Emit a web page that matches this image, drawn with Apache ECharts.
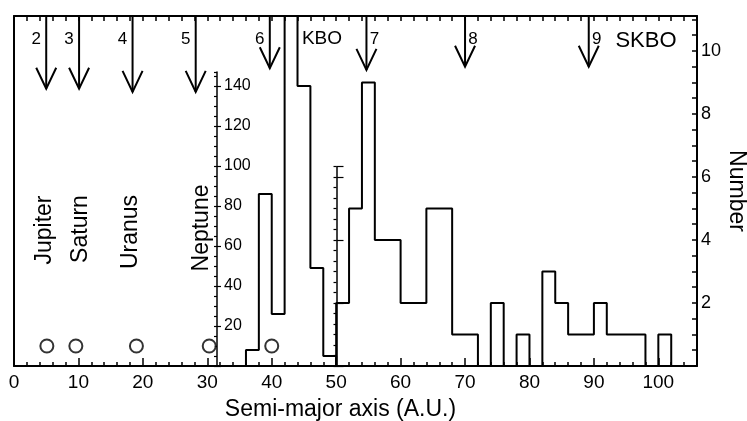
<!DOCTYPE html>
<html><head><meta charset="utf-8">
<script src="https://cdn.jsdelivr.net/npm/echarts@6/dist/echarts.min.js"></script>
<style>html,body{margin:0;padding:0;background:#fff}#c{width:747px;height:421px}</style>
</head><body><div id="c"></div>
<script>
// ---- data ----
var binWidth = 2;
var kboBinStart = [36, 38, 40, 42, 44, 46, 48];
var kboCounts   = [8, 86, 26, 230, 140, 49, 5];
var skboBinStart = [50, 52, 54, 56, 58, 60, 62, 64, 66, 68, 70, 72, 74, 76, 78, 80, 82, 84, 86, 88, 90, 92, 94, 96, 98, 100];
var skboCounts   = [2, 5, 9, 4, 4, 2, 2, 5, 5, 1, 1, 0, 2, 0, 1, 0, 3, 2, 1, 1, 2, 1, 1, 1, 0, 1];
var planetNames = ['Jupiter', 'Saturn', 'Uranus', 'Neptune'];
var bodyA = [5.1, 9.6, 19.0, 30.3, 40.0];
var bodyMarkerLevel = 10;
var arrowLabels = ['2', '3', '4', '5', '6', '7', '8', '9'];
var arrowA   = [5.0, 10.1, 18.4, 28.2, 39.7, 54.7, 70.0, 89.2];
var arrowTip = [8.8, 8.8, 8.7, 8.7, 9.45, 9.4, 9.5, 9.5];

var X_MAX = 106, RIGHT_MAX = 11.11, KBO_MAX = 175;
var FONT = 'Liberation Sans, Arial, sans-serif';

function outline(starts, counts) {
  var d = [[starts[0], 0]];
  for (var i = 0; i < starts.length; i++) {
    d.push([starts[i], counts[i]]);
    d.push([starts[i] + binWidth, counts[i]]);
  }
  d.push([starts[starts.length - 1] + binWidth, 0]);
  return d;
}

var chart = echarts.init(document.getElementById('c'), null, {renderer: 'canvas'});
var black = '#000';
var option = {
  animation: false,
  backgroundColor: '#fff',
  textStyle: {fontFamily: FONT},
  grid: [
    {left: 14, right: 50, top: 16, bottom: 55},
    {left: 217, width: 20, top: 72, bottom: 55},
    {left: 336.5, width: 20, top: 166.7, bottom: 55}
  ],
  xAxis: [
    {gridIndex: 0, type: 'value', position: 'bottom', min: 0, max: X_MAX, interval: 10,
     axisLine: {show: true, onZero: false, lineStyle: {color: black, width: 2}},
     axisTick: {show: true, inside: true, length: 8, lineStyle: {color: black, width: 1.5}},
     axisLabel: {show: true, color: black, fontSize: 19, fontFamily: FONT, margin: 7, showMaxLabel: false,
       formatter: function (v) { return v % 10 === 0 ? String(v) : ''; }},
     splitLine: {show: false}},
    {gridIndex: 0, type: 'value', position: 'bottom', min: 0, max: X_MAX, interval: 2,
     axisLine: {show: false, onZero: false}, axisTick: {show: true, inside: true, length: 4, lineStyle: {color: black, width: 1.5}},
     axisLabel: {show: false}, splitLine: {show: false}},
    {gridIndex: 0, type: 'value', position: 'top', min: 0, max: X_MAX, interval: 2,
     axisLine: {show: true, onZero: false, lineStyle: {color: black, width: 2}},
     axisTick: {show: true, inside: true, length: 5, lineStyle: {color: black, width: 1.5}},
     axisLabel: {show: false}, splitLine: {show: false}},
    {gridIndex: 1, type: 'value', min: 0, max: 1, show: false},
    {gridIndex: 2, type: 'value', min: 0, max: 1, show: false}
  ],
  yAxis: [
    {gridIndex: 0, type: 'value', position: 'right', min: 0, max: RIGHT_MAX, interval: 0.5,
     axisLine: {show: true, onZero: false, lineStyle: {color: black, width: 2}},
     axisTick: {show: true, inside: true, length: 5, lineStyle: {color: black, width: 1.5}},
     axisLabel: {show: true, color: black, fontSize: 18, fontFamily: FONT, margin: 4, showMaxLabel: false,
       formatter: function (v) { return (v > 0 && v % 2 === 0) ? String(v) : ''; }},
     splitLine: {show: false}},
    {gridIndex: 0, type: 'value', position: 'left', min: 0, max: KBO_MAX,
     axisLine: {show: true, onZero: false, lineStyle: {color: black, width: 2}},
     axisTick: {show: false}, axisLabel: {show: false}, splitLine: {show: false}},
    {gridIndex: 1, type: 'value', position: 'left', min: 0, max: 147, interval: 20,
     axisLine: {show: true, onZero: false, lineStyle: {color: black, width: 1.5}},
     axisTick: {show: true, inside: true, length: 4, lineStyle: {color: black, width: 1.2}},
     axisLabel: {show: true, inside: true, color: black, fontSize: 16, fontFamily: FONT, margin: 7, showMaxLabel: false,
       formatter: function (v) { return (v > 0 && v % 20 === 0) ? String(v) : ''; }},
     splitLine: {show: false}},
    {gridIndex: 1, type: 'value', position: 'left', min: 0, max: 147, interval: 5,
     axisLine: {show: false, onZero: false},
     axisTick: {show: true, inside: false, length: 3, lineStyle: {color: black, width: 1.2}},
     axisLabel: {show: false}, splitLine: {show: false}},
    {gridIndex: 2, type: 'value', position: 'left', min: 0, max: 6.33, interval: 2,
     axisLine: {show: true, onZero: false, lineStyle: {color: black, width: 1.5}},
     axisTick: {show: true, inside: true, length: 7, lineStyle: {color: black, width: 1.2}},
     axisLabel: {show: false}, splitLine: {show: false}},
    {gridIndex: 2, type: 'value', position: 'left', min: 0, max: 6.33, interval: 1 / 3,
     axisLine: {show: false, onZero: false},
     axisTick: {show: true, inside: false, length: 3, lineStyle: {color: black, width: 1.2}},
     axisLabel: {show: false}, splitLine: {show: false}}
  ],
  series: [
    {type: 'line', xAxisIndex: 0, yAxisIndex: 1, data: outline(kboBinStart, kboCounts),
     symbol: 'none', clip: true, lineStyle: {color: black, width: 2}, z: 3},
    {type: 'line', xAxisIndex: 0, yAxisIndex: 0, data: outline(skboBinStart, skboCounts),
     symbol: 'none', clip: true, lineStyle: {color: black, width: 2}, z: 3},
    {type: 'scatter', xAxisIndex: 0, yAxisIndex: 1,
     data: bodyA.map(function (a) { return [a, bodyMarkerLevel]; }),
     symbol: 'circle', symbolSize: 13,
     itemStyle: {color: '#fff', borderColor: black, borderWidth: 2}, z: 4},
    {type: 'custom', xAxisIndex: 0, yAxisIndex: 0,
     data: arrowA.map(function (a, i) { return [a, arrowTip[i]]; }),
     renderItem: function (params, api) {
       var x = api.value(0), tip = api.value(1);
       var top = api.coord([x, RIGHT_MAX]);
       var p = api.coord([x, tip]);
       var lbl = arrowLabels[params.dataIndex];
       var left = x < 45;
       return {type: 'group', children: [
         {type: 'line', shape: {x1: top[0], y1: top[1], x2: p[0], y2: p[1]},
          style: {stroke: black, lineWidth: 2}},
         {type: 'polyline', shape: {points: [[p[0] - 10, p[1] - 21], [p[0], p[1]], [p[0] + 10, p[1] - 21]]},
          style: {stroke: black, lineWidth: 2, fill: null}},
         {type: 'text', style: {text: lbl, x: p[0] + (left ? -10 : 8), y: top[1] + 23,
           fill: black, font: '17px ' + FONT, align: 'center', verticalAlign: 'middle'}}
       ]};
     }, z: 5}
  ],
  graphic: [
    {type: 'text', x: 45, y: 230, rotation: Math.PI / 2, style: {text: planetNames[0], fill: black, font: '23px ' + FONT, align: 'center', verticalAlign: 'middle'}},
    {type: 'text', x: 81, y: 229, rotation: Math.PI / 2, style: {text: planetNames[1], fill: black, font: '23px ' + FONT, align: 'center', verticalAlign: 'middle'}},
    {type: 'text', x: 131, y: 232, rotation: Math.PI / 2, style: {text: planetNames[2], fill: black, font: '23px ' + FONT, align: 'center', verticalAlign: 'middle'}},
    {type: 'text', x: 202, y: 228, rotation: Math.PI / 2, style: {text: planetNames[3], fill: black, font: '23px ' + FONT, align: 'center', verticalAlign: 'middle'}},
    {type: 'text', x: 322, y: 38.5, style: {text: 'KBO', fill: black, font: '19px ' + FONT, align: 'center', verticalAlign: 'middle'}},
    {type: 'text', x: 646, y: 40.5, style: {text: 'SKBO', fill: black, font: '22px ' + FONT, align: 'center', verticalAlign: 'middle'}},
    {type: 'text', x: 736, y: 191, rotation: -Math.PI / 2, style: {text: 'Number', fill: black, font: '23px ' + FONT, align: 'center', verticalAlign: 'middle'}},
    {type: 'text', x: 340.5, y: 410, style: {text: 'Semi-major axis (A.U.)', fill: black, font: '23px ' + FONT, align: 'center', verticalAlign: 'middle'}}
  ]
};
chart.setOption(option);
</script>
</body></html>
